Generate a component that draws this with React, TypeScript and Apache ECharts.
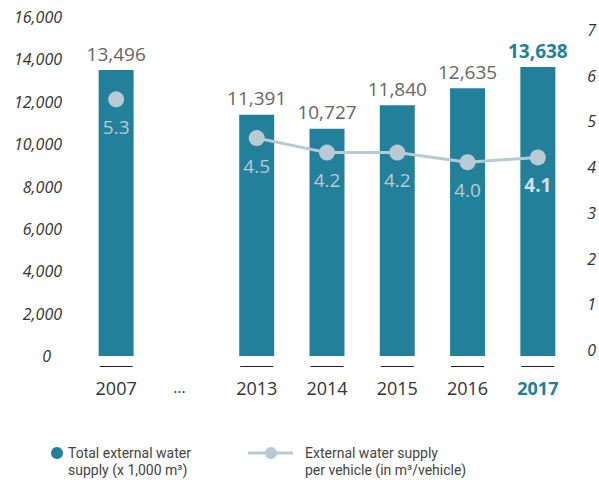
import React, { useEffect, useRef } from "react";
import * as echarts from "echarts";

const categories = ["2007", "...", "2013", "2014", "2015", "2016", "2017"];
const totalSupply = [13496, null, 11391, 10727, 11840, 12635, 13638];
const perVehicle = [5.3, null, 4.5, 4.2, 4.2, 4.0, 4.1];
const highlightYear = "2017";
const rightTicks = [0, 1, 2, 3, 4, 5, 6, 7];

const TEAL = "#23809b";
const LIGHT = "#b8cbd4";
const FONT = "'Open Sans', 'Noto Sans', sans-serif";
const LEGEND_FONT = "Roboto, 'Noto Sans', sans-serif";

export default function App() {
  const ref = useRef<HTMLDivElement>(null);
  useEffect(() => {
    document.body.style.margin = "0";
    if (!ref.current) return;
    const chart = echarts.init(ref.current, null, { renderer: "svg" });
    const hlIdx = categories.indexOf(highlightYear);
    const barData = totalSupply.map((v, i) =>
      v == null
        ? null
        : i === hlIdx
        ? { value: v, label: { color: TEAL, fontWeight: "bold" } }
        : v
    );
    const lineData = perVehicle.map((v, i) =>
      v == null
        ? null
        : i === hlIdx
        ? { value: v, label: { fontWeight: "bold", color: "#d3e0e6" } }
        : v
    );
    const tickData = categories
      .map((c, i) => (totalSupply[i] == null ? null : [i, 0]))
      .filter((d) => d != null);

    chart.setOption({
      animation: false,
      textStyle: { fontFamily: FONT },
      grid: [
        { left: 81, right: 26, top: 17, height: 339 },
        { left: 81, right: 11, top: 30, height: 320 },
      ],
      xAxis: [
        {
          type: "category",
          gridIndex: 0,
          data: categories,
          axisLine: { show: false },
          axisTick: { show: false },
          axisLabel: {
            interval: 0,
            margin: 23,
            fontSize: 18,
            color: "#333",
            fontFamily: FONT,
            formatter: (v: string) =>
              v === highlightYear ? "{hl|" + v + "}" : v === "..." ? "{dots|" + v + "}" : v,
            rich: {
              hl: { fontSize: 18, fontWeight: "bold", color: TEAL, fontFamily: FONT },
              dots: { fontSize: 16, color: "#333", padding: [0, 14, 0, 0], fontFamily: FONT },
            },
          },
        },
        { type: "category", gridIndex: 1, show: false, data: categories },
      ],
      yAxis: [
        {
          type: "value",
          gridIndex: 0,
          min: 0,
          max: 16000,
          interval: 2000,
          splitLine: { show: false },
          axisLine: { show: false },
          axisTick: { show: false },
          axisLabel: {
            margin: 19,
            fontSize: 16,
            fontStyle: "italic",
            color: "#333",
            fontFamily: FONT,
            formatter: (v: number) =>
              v === 0 ? "{z|0}" : v.toLocaleString("en-US"),
            rich: {
              z: { fontSize: 16, fontStyle: "italic", color: "#333", padding: [0, 11, 0, 0], fontFamily: FONT },
            },
          },
        },
        {
          type: "value",
          gridIndex: 0,
          min: 0,
          max: 7,
          show: false,
          splitLine: { show: false },
        },
        {
          type: "value",
          gridIndex: 1,
          position: "right",
          min: rightTicks[0],
          max: rightTicks[rightTicks.length - 1],
          interval: 1,
          splitLine: { show: false },
          axisLine: { show: false },
          axisTick: { show: false },
          axisLabel: {
            margin: 4,
            fontSize: 16,
            fontStyle: "italic",
            color: "#333",
            fontFamily: FONT,
          },
        },
      ],
      series: [
        {
          type: "bar",
          xAxisIndex: 0,
          yAxisIndex: 0,
          data: barData,
          barWidth: 35,
          itemStyle: { color: TEAL },
          label: {
            show: true,
            position: "top",
            distance: 7,
            fontSize: 19,
            color: "#666",
            fontFamily: FONT,
            formatter: (p: any) => Number(p.value).toLocaleString("en-US"),
          },
        },
        {
          type: "custom",
          xAxisIndex: 0,
          yAxisIndex: 0,
          data: tickData,
          renderItem: (params: any, api: any) => {
            const p = api.coord([api.value(0), 0]);
            return {
              type: "line",
              shape: { x1: p[0] - 16.5, y1: p[1] + 10.5, x2: p[0] + 16.5, y2: p[1] + 10.5 },
              style: { stroke: "#222", lineWidth: 1 },
            };
          },
        },
        {
          type: "line",
          xAxisIndex: 0,
          yAxisIndex: 1,
          data: lineData,
          connectNulls: false,
          symbol: "circle",
          symbolSize: 16,
          lineStyle: { color: LIGHT, width: 3 },
          itemStyle: { color: LIGHT },
          label: {
            show: true,
            position: "bottom",
            distance: 10,
            fontSize: 19,
            color: LIGHT,
            fontFamily: FONT,
            formatter: (p: any) => Number(p.value).toFixed(1),
          },
          z: 5,
        },
      ],
      graphic: [
        { type: "circle", shape: { cx: 57, cy: 453, r: 6 }, style: { fill: TEAL } },
        {
          type: "text",
          x: 68,
          y: 444,
          style: {
            text: "Total external water\nsupply (x 1,000 m³)",
            fontSize: 14,
            lineHeight: 17,
            fill: "#444",
            fontFamily: LEGEND_FONT,
          },
        },
        {
          type: "line",
          shape: { x1: 248, y1: 453, x2: 293, y2: 453 },
          style: { stroke: LIGHT, lineWidth: 3 },
        },
        { type: "circle", shape: { cx: 271, cy: 453, r: 6 }, style: { fill: LIGHT } },
        {
          type: "text",
          x: 305,
          y: 444,
          style: {
            text: "External water supply\nper vehicle (in m³/vehicle)",
            fontSize: 14,
            lineHeight: 17,
            fill: "#444",
            fontFamily: LEGEND_FONT,
          },
        },
      ],
    });
    return () => chart.dispose();
  }, []);
  return <div ref={ref} style={{ width: 599, height: 480 }} />;
}
